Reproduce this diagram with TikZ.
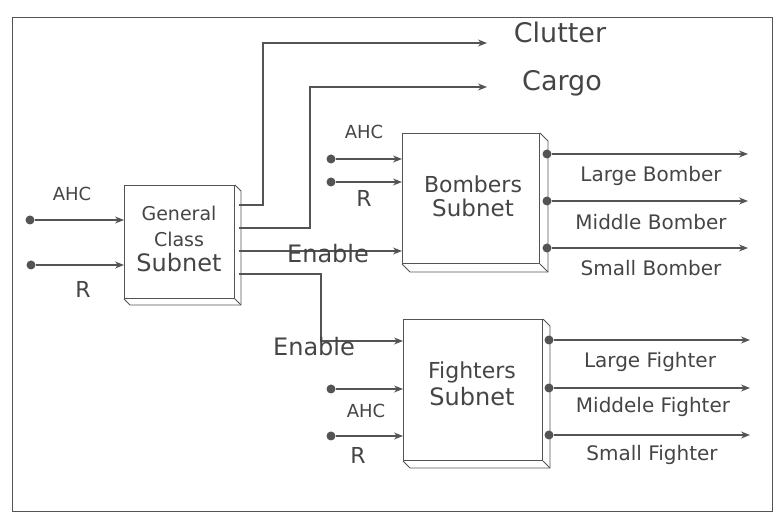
\documentclass[tikz,border=0pt]{standalone}
\usepackage{fontspec}
\setmainfont{DejaVu Sans}
\usetikzlibrary{arrows.meta,calc}
\definecolor{ink}{gray}{0.33}
\definecolor{txt}{gray}{0.27}
\tikzset{
  line/.style={draw=ink, line width=1.1pt},
  arr/.style={line, -{Stealth[length=9pt,width=7pt]}},
  subbox/.style={draw=ink, line width=1pt, fill=white, inner sep=0pt, anchor=north west},
  dotnode/.style={circle, fill=ink, inner sep=0pt, minimum size=9pt},
  lbl/.style={text=txt, inner sep=0pt, font=\fontsize{20}{22}\selectfont},
  shadow/.style={draw=ink, line width=0.9pt}
}
\begin{document}
\begin{tikzpicture}[x=1pt,y=-1pt]
\useasboundingbox (0,0) rectangle (780,518);
% frame
\draw[draw=ink, line width=0.9pt] (12,17) rectangle (772,511);

% boxes
\node[subbox, minimum width=110pt, minimum height=113pt] (gen) at (124,185) {};
\node[subbox, minimum width=137pt, minimum height=130pt] (bomb) at (402,133) {};
\node[subbox, minimum width=139pt, minimum height=141pt] (fight) at (403,319) {};

% shadows
\foreach \b/\d in {gen/6, bomb/8, fight/7}{
  \draw[shadow] (\b.north east) -- ++(\d,\d) -- ($(\b.south east)+(\d,\d)$) -- ($(\b.south west)+(\d,\d)$) -- (\b.south west);
  \draw[shadow] (\b.south east) -- ++(\d,\d);
}

% box texts
\node[lbl, font=\fontsize{19}{21}\selectfont] (genA) at (179,213) {General};
\node[lbl, font=\fontsize{19}{21}\selectfont] (genB) at (179,239) {Class};
\node[lbl, font=\fontsize{24}{26}\selectfont] (genC) at (179,263) {Subnet};
\node[lbl, font=\fontsize{22}{24}\selectfont] (bombA) at (473,184) {Bombers};
\node[lbl, font=\fontsize{23}{25}\selectfont] (bombB) at (473,208) {Subnet};
\node[lbl, font=\fontsize{22}{24}\selectfont] (fightA) at (472,372) {Fighters};
\node[lbl, font=\fontsize{24}{26}\selectfont] (fightB) at (472,397) {Subnet};

% general inputs
\node[dotnode] (gahc) at (30,220) {};
\node[dotnode] (gr) at (31,265) {};
\draw[arr] (gahc) -- (gahc -| gen.west);
\draw[arr] (gr) -- (gr -| gen.west);
\node[lbl, font=\fontsize{18}{20}\selectfont] (lgahc) at (72,194) {AHC};
\node[lbl, font=\fontsize{22}{24}\selectfont] (lgr) at (83,289) {R};

% general outputs
\coordinate (cl1) at (239,205);
\coordinate (cl2) at (263,43);
\coordinate (clend) at (487,43);
\draw[arr] (cl1) -| (cl2) -- (clend);
\coordinate (ca1) at (239,228);
\coordinate (ca2) at (310,87);
\coordinate (caend) at (487,87);
\draw[arr] (ca1) -| (ca2) -- (caend);
\node[lbl, font=\fontsize{27}{29}\selectfont] (clutter) at (560,32) {Clutter};
\node[lbl, font=\fontsize{27}{29}\selectfont, anchor=base] (cargo) at (562,91) {Cargo};

% enable lines
\coordinate (en1) at (239,251);
\draw[arr] (en1) -- (en1 -| bomb.west);
\node[lbl, font=\fontsize{24}{26}\selectfont] (len1) at (328,254) {Enable};
\coordinate (en2) at (239,274);
\coordinate (en2b) at (321,341);
\draw[arr] (en2) -| (en2b) -- (en2b -| fight.west);
\node[lbl, font=\fontsize{24}{26}\selectfont] (len2) at (314,347) {Enable};

% bombers inputs
\node[dotnode] (bahc) at (331,159) {};
\node[dotnode] (br) at (331,182) {};
\draw[arr] (bahc) -- (bahc -| bomb.west);
\draw[arr] (br) -- (br -| bomb.west);
\node[lbl, font=\fontsize{18}{20}\selectfont] (lbahc) at (364,132) {AHC};
\node[lbl, font=\fontsize{22}{24}\selectfont] (lbr) at (364,198) {R};

% fighters inputs
\node[dotnode] (fahc) at (331,389) {};
\node[dotnode] (fr) at (331,436) {};
\draw[arr] (fahc) -- (fahc -| fight.west);
\draw[arr] (fr) -- (fr -| fight.west);
\node[lbl, font=\fontsize{18}{20}\selectfont] (lfahc) at (366,411) {AHC};
\node[lbl, font=\fontsize{22}{24}\selectfont] (lfr) at (358,455) {R};

% bombers outputs
\node[dotnode] (bo1) at (547,154) {};
\node[dotnode] (bo2) at (547,201) {};
\node[dotnode] (bo3) at (547,248) {};
\coordinate (be1) at (748,154);
\coordinate (be2) at (748,201);
\coordinate (be3) at (748,248);
\draw[arr] (bo1) -- (be1);
\draw[arr] (bo2) -- (be2);
\draw[arr] (bo3) -- (be3);
\node[lbl] (lb1) at (651,176) {Large Bomber};
\node[lbl] (lb2) at (651,222) {Middle Bomber};
\node[lbl] (lb3) at (651,268) {Small Bomber};

% fighters outputs
\node[dotnode] (fo1) at (549,340) {};
\node[dotnode] (fo2) at (549,388) {};
\node[dotnode] (fo3) at (549,435) {};
\coordinate (fe1) at (750,340);
\coordinate (fe2) at (750,388);
\coordinate (fe3) at (750,435);
\draw[arr] (fo1) -- (fe1);
\draw[arr] (fo2) -- (fe2);
\draw[arr] (fo3) -- (fe3);
\node[lbl] (lf1) at (650,362) {Large Fighter};
\node[lbl] (lf2) at (653,407) {Middele Fighter};
\node[lbl] (lf3) at (652,455) {Small Fighter};
\end{tikzpicture}
\end{document}
